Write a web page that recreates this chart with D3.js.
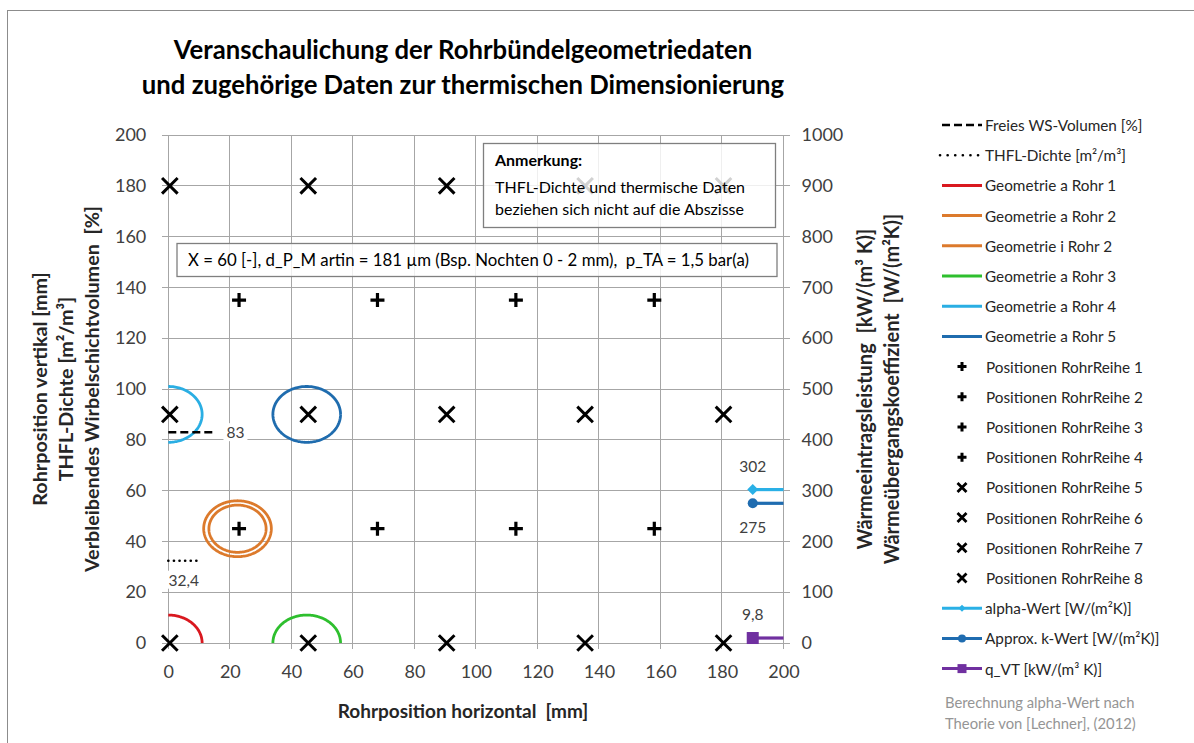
<!DOCTYPE html>
<html><head><meta charset="utf-8">
<script src="https://cdn.jsdelivr.net/npm/d3@7"></script>
<style>
html,body{margin:0;padding:0;background:#fff;}
svg{display:block;font-family:Lato,"Noto Sans",sans-serif;}
text{white-space:pre;}
</style></head>
<body><svg id="c" width="1194" height="743"></svg>
<script>
// ---------- data ----------
const titleLines = ["Veranschaulichung der Rohrbündelgeometriedaten", "und zugehörige Daten zur thermischen Dimensionierung"];
const xTicks = [0, 20, 40, 60, 80, 100, 120, 140, 160, 180, 200];
const yLeftTicks = [0, 20, 40, 60, 80, 100, 120, 140, 160, 180, 200];
const yRightTicks = [0, 100, 200, 300, 400, 500, 600, 700, 800, 900, 1000];
const xTitle = "Rohrposition horizontal  [mm]";
const yLeftTitles = ["Rohrposition vertikal [mm]", "THFL-Dichte [m²/m³]", "Verbleibendes Wirbelschichtvolumen  [%]"];
const yRightTitles = ["Wärmeeintragsleistung  [kW/(m³ K)]", "Wärmeübergangskoeffizient  [W/(m²K)]"];

// tube positions (plus rows / cross rows)
const plusX = [23, 68, 113, 158];
const plusRowsY = [135, 45];
const crossX = [0.5, 45.5, 90.5, 135.5, 180.5];
const crossRowsY = [180, 90, 0];

// tube geometries: centre x, centre y, radius [mm], arc start/end angle [deg]
const geomA1 = [0, 0, 11, 0, 90];
const geomA2 = [22.5, 45, 11, 0, 360];
const geomI2 = [22.5, 45, 9.3, 0, 360];
const geomA3 = [45, 0, 11, 0, 180];
const geomA4 = [0, 90, 11, -90, 90];
const geomA5 = [45, 90, 11, 0, 360];

// short horizontal indicator series (left axis)
const freiesWS = [[0, 83], [15, 83]];
const thflDichte = [[0, 32.4], [10, 32.4]];
// thermal series (right axis)
const alphaWert = [[190, 302], [200, 302]];
const kWert = [[190, 275], [200, 275]];
const qVT = [[190, 9.8], [200, 9.8]];

const legendLabels = ["Freies WS-Volumen [%]", "THFL-Dichte [m²/m³]", "Geometrie a Rohr 1", "Geometrie a Rohr 2", "Geometrie i Rohr 2", "Geometrie a Rohr 3", "Geometrie a Rohr 4", "Geometrie a Rohr 5", "Positionen RohrReihe 1", "Positionen RohrReihe 2", "Positionen RohrReihe 3", "Positionen RohrReihe 4", "Positionen RohrReihe 5", "Positionen RohrReihe 6", "Positionen RohrReihe 7", "Positionen RohrReihe 8", "alpha-Wert [W/(m²K)]", "Approx. k-Wert [W/(m²K)]", "q_VT [kW/(m³ K)]"];
const legendKinds = ["dash", "dot", "line", "line", "line", "line", "line", "line", "plus", "plus", "plus", "plus", "cross", "cross", "cross", "cross", "diamond", "circle", "square"];
const noteTitle = "Anmerkung:";
const noteLines = ["THFL-Dichte und thermische Daten", "beziehen sich nicht auf die Abszisse"];
const paramText = "X = 60 [-], d_P_M artin = 181 µm (Bsp. Nochten 0 - 2 mm),  p_TA = 1,5 bar(a)";
const sourceLines = ["Berechnung alpha-Wert nach", "Theorie von [Lechner], (2012)"];

// ---------- styles ----------
const C = {
  red: "#d9181f", orange: "#dc7a2c", green: "#2ebf2e", cyan: "#2aaee3", blue: "#1f6cae",
  alpha: "#2ab0e6", k: "#1f6cb0", q: "#7030a0", grid: "#a6a6a6", tick: "#404040"
};
const legendColors = ["#000", "#000", C.red, C.orange, C.orange, C.green, C.cyan, C.blue, "#000", "#000", "#000", "#000", "#000", "#000", "#000", "#000", C.alpha, C.k, C.q];

const svg = d3.select("#c");
const M = {l: 168.3, r: 783.5, t: 135, b: 643};
const x = d3.scaleLinear().domain([0, 200]).range([M.l, M.r]);
const yL = d3.scaleLinear().domain([0, 200]).range([M.b, M.t]);
const yR = d3.scaleLinear().domain([0, 1000]).range([M.b, M.t]);

// outer border
svg.append("rect").attr("x", 7.5).attr("y", 10.5).attr("width", 1200).attr("height", 760)
  .attr("fill", "none").attr("stroke", "#8c8c8c").attr("stroke-width", 1);

// title
svg.append("g").selectAll("text").data(titleLines).join("text")
  .attr("x", 463).attr("y", (d, i) => 59 + i * 35).attr("text-anchor", "middle")
  .attr("font-size", 25.7).attr("font-weight", "bold").attr("fill", "#000").text(d => d);

// grid
const grid = svg.append("g").attr("stroke", C.grid).attr("stroke-width", 1).attr("shape-rendering", "crispEdges");
grid.selectAll(".v").data(xTicks).join("line").attr("class", "v")
  .attr("x1", d => x(d)).attr("x2", d => x(d)).attr("y1", M.t).attr("y2", M.b + 6);
grid.selectAll(".h").data(yLeftTicks).join("line").attr("class", "h")
  .attr("x1", M.l - 6).attr("x2", M.r + 6).attr("y1", d => yL(d)).attr("y2", d => yL(d));

// axes labels via d3 axes
const axB = svg.append("g").attr("transform", `translate(0,${M.b})`)
  .call(d3.axisBottom(x).tickValues(xTicks).tickSize(0).tickPadding(22));
const axL = svg.append("g").attr("transform", `translate(${M.l},0)`)
  .call(d3.axisLeft(yL).tickValues(yLeftTicks).tickSize(0).tickPadding(22));
const axR = svg.append("g").attr("transform", `translate(${M.r},0)`)
  .call(d3.axisRight(yR).tickValues(yRightTicks).tickFormat(d3.format("d")).tickSize(0).tickPadding(18));
[axB, axL, axR].forEach(a => {
  a.select(".domain").remove();
  a.selectAll("text").attr("font-size", 18).attr("fill", C.tick).attr("font-family", "Lato, sans-serif");
});

// axis titles
svg.append("text").attr("x", 463).attr("y", 718).attr("text-anchor", "middle")
  .attr("font-size", 19).attr("font-weight", "bold").attr("fill", "#262626").text(xTitle);
svg.append("g").selectAll("text").data(yLeftTitles).join("text")
  .attr("transform", (d, i) => `translate(${47 + i * 26},389) rotate(-90)`)
  .attr("text-anchor", "middle").attr("font-size", 19.8).attr("font-weight", "bold").attr("fill", "#262626").text(d => d);
svg.append("g").selectAll("text").data(yRightTitles).join("text")
  .attr("transform", (d, i) => `translate(${872 + i * 27},389) rotate(-90)`)
  .attr("text-anchor", "middle").attr("font-size", 20).attr("font-weight", "bold").attr("fill", "#262626").text(d => d);

// geometry arcs
function arcPath(g) {
  const [cx, cy, r, a0, a1] = g;
  const pts = d3.range(a0, a1 + 0.001, 2).map(a => {
    const t = a * Math.PI / 180;
    return [x(cx + r * Math.cos(t)), yL(cy + r * Math.sin(t))];
  });
  return d3.line()(pts);
}
const geoms = [[geomA1, C.red], [geomA2, C.orange], [geomI2, C.orange], [geomA3, C.green], [geomA4, C.cyan], [geomA5, C.blue]];
svg.append("g").selectAll("path").data(geoms).join("path")
  .attr("d", d => arcPath(d[0])).attr("fill", "none").attr("stroke", d => d[1]).attr("stroke-width", 2.8);

// indicator lines
const lineL = d3.line().x(d => x(d[0])).y(d => yL(d[1]));
const lineR = d3.line().x(d => x(d[0])).y(d => yR(d[1]));
svg.append("path").attr("d", lineL(freiesWS)).attr("stroke", "#000").attr("stroke-width", 2.5).attr("stroke-dasharray", "8,4").attr("fill", "none");
svg.append("path").attr("d", lineL(thflDichte)).attr("stroke", "#000").attr("stroke-width", 2.6).attr("stroke-dasharray", "0.1,5.5").attr("stroke-linecap", "round").attr("fill", "none");

// markers
function plusPath(cx, cy, s) { return `M${cx - s},${cy}H${cx + s}M${cx},${cy - s}V${cy + s}`; }
function crossPath(cx, cy, s) { return `M${cx - s},${cy - s}L${cx + s},${cy + s}M${cx - s},${cy + s}L${cx + s},${cy - s}`; }
const plusPts = plusRowsY.flatMap(yy => plusX.map(xx => [xx, yy]));
const crossPts = crossRowsY.flatMap(yy => crossX.map(xx => [xx, yy]));
svg.append("g").selectAll("path").data(plusPts).join("path")
  .attr("d", d => plusPath(x(d[0]), yL(d[1]), 7)).attr("stroke", "#000").attr("stroke-width", 3.2).attr("fill", "none");
svg.append("g").selectAll("path").data(crossPts).join("path")
  .attr("d", d => crossPath(x(d[0]), yL(d[1]), 7.8)).attr("stroke", "#000").attr("stroke-width", 3).attr("fill", "none");

// thermal series
function drawThermal(data, color, kind) {
  svg.append("path").attr("d", lineR(data)).attr("stroke", color).attr("stroke-width", 3.2).attr("fill", "none");
  const p = data[0];
  const mx = x(p[0]), my = yR(p[1]);
  if (kind === "diamond") svg.append("path").attr("d", `M${mx - 5.5},${my}L${mx},${my - 5.5}L${mx + 5.5},${my}L${mx},${my + 5.5}Z`).attr("fill", color);
  if (kind === "circle") svg.append("circle").attr("cx", mx).attr("cy", my).attr("r", 5).attr("fill", color);
  if (kind === "square") svg.append("rect").attr("x", mx - 6).attr("y", my - 6).attr("width", 12).attr("height", 12).attr("fill", color);
}
drawThermal(alphaWert, C.alpha, "diamond");
drawThermal(kWert, C.k, "circle");
drawThermal(qVT, C.q, "square");

// data labels
function dataLabel(px, py, txt) {
  const g = svg.append("g");
  const t = g.append("text").attr("x", px).attr("y", py).attr("text-anchor", "middle").attr("dominant-baseline", "central")
    .attr("font-size", 15.5).attr("fill", "#404040").text(txt);
  const bb = t.node().getBBox();
  g.insert("rect", "text").attr("x", bb.x - 3).attr("y", bb.y).attr("width", bb.width + 6).attr("height", bb.height).attr("fill", "#fff");
}
dataLabel(x(freiesWS[1][0]) + 21, yL(freiesWS[1][1]), "83");
dataLabel(x(5), yL(thflDichte[0][1]) + 19, "32,4");
dataLabel(x(alphaWert[0][0]), yR(alphaWert[0][1]) - 24, String(alphaWert[0][1]));
dataLabel(x(kWert[0][0]), yR(kWert[0][1]) + 24, String(kWert[0][1]));
dataLabel(x(qVT[0][0]), yR(qVT[0][1]) - 24, "9,8");

// note boxes
svg.append("rect").attr("x", 483.5).attr("y", 143.5).attr("width", 292).attr("height", 84)
  .attr("fill", "#fff").attr("fill-opacity", 0.82).attr("stroke", "#7f7f7f").attr("stroke-width", 1.3);
svg.append("text").attr("x", 495).attr("y", 166).attr("font-size", 16).attr("font-weight", "bold").attr("fill", "#000").text(noteTitle);
svg.append("g").selectAll("text").data(noteLines).join("text")
  .attr("x", 495).attr("y", (d, i) => 193 + i * 22).attr("font-size", 16).attr("fill", "#000").text(d => d);
svg.append("rect").attr("x", 177).attr("y", 243.5).attr("width", 600).attr("height", 33)
  .attr("fill", "#fff").attr("fill-opacity", 0.82).attr("stroke", "#7f7f7f").attr("stroke-width", 1.3);
svg.append("text").attr("x", 188).attr("y", 266).attr("font-size", 16.8).attr("fill", "#000").text(paramText);

// legend
const lg = svg.append("g");
legendLabels.forEach((lab, i) => {
  const yy = 125 + i * 30.2;
  const kind = legendKinds[i], col = legendColors[i];
  const x0 = 942, x1 = 982, xm = 962;
  if (kind === "dash") lg.append("line").attr("x1", x0).attr("x2", x1).attr("y1", yy).attr("y2", yy).attr("stroke", col).attr("stroke-width", 2.6).attr("stroke-dasharray", "8,4");
  if (kind === "dot") lg.append("line").attr("x1", x0 - 2).attr("x2", x1).attr("y1", yy).attr("y2", yy).attr("stroke", col).attr("stroke-width", 2.6).attr("stroke-dasharray", "0.1,7.5").attr("stroke-linecap", "round");
  if (kind === "line") lg.append("line").attr("x1", x0).attr("x2", x1).attr("y1", yy).attr("y2", yy).attr("stroke", col).attr("stroke-width", 3);
  if (kind === "plus") lg.append("path").attr("d", plusPath(xm, yy, 4.5)).attr("stroke", col).attr("stroke-width", 3).attr("fill", "none");
  if (kind === "cross") lg.append("path").attr("d", crossPath(xm, yy, 4.5)).attr("stroke", col).attr("stroke-width", 2.8).attr("fill", "none");
  if (kind === "diamond" || kind === "circle" || kind === "square") {
    lg.append("line").attr("x1", x0).attr("x2", x1).attr("y1", yy).attr("y2", yy).attr("stroke", col).attr("stroke-width", 3);
    if (kind === "diamond") lg.append("path").attr("d", `M${xm - 3.5},${yy}L${xm},${yy - 3.5}L${xm + 3.5},${yy}L${xm},${yy + 3.5}Z`).attr("fill", col);
    if (kind === "circle") lg.append("circle").attr("cx", xm).attr("cy", yy).attr("r", 4).attr("fill", col);
    if (kind === "square") lg.append("rect").attr("x", xm - 4.5).attr("y", yy - 4.5).attr("width", 9).attr("height", 9).attr("fill", col);
  }
  lg.append("text").attr("x", kind === "plus" || kind === "cross" ? 986 : 985).attr("y", yy).attr("dominant-baseline", "central")
    .attr("font-size", 15.3).attr("fill", "#262626").text(lab);
});
svg.append("g").selectAll("text").data(sourceLines).join("text")
  .attr("x", 945).attr("y", (d, i) => 708 + i * 21).attr("font-size", 14.8).attr("fill", "#959595").text(d => d);
</script></body></html>
